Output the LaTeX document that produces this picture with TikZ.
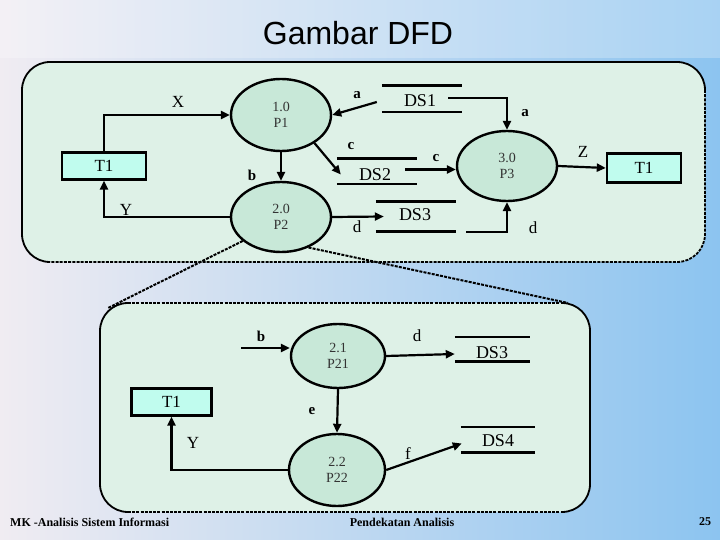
\documentclass[tikz,border=0pt]{standalone}
\usepackage{fontspec}
\setmainfont{Liberation Serif}
\newfontfamily\titlefont{Liberation Sans}
\usetikzlibrary{arrows.meta,calc,shapes.geometric}
\definecolor{bgL}{RGB}{240,236,242}
\definecolor{bgR}{RGB}{140,196,240}
\definecolor{panel}{RGB}{222,241,231}
\definecolor{procfill}{RGB}{200,232,216}
\definecolor{termfill}{RGB}{192,252,238}
\tikzset{
  proc/.style={ellipse,draw=black,line width=2.4pt,fill=procfill,inner sep=0pt,
    font=\fontsize{14}{16}\selectfont,align=center,text=black!80},
  term/.style={rectangle,draw=black,line width=2.4pt,fill=termfill,inner sep=0pt,
    font=\fontsize{17}{19}\selectfont},
  store/.style={rectangle,inner sep=0pt,font=\fontsize{18}{20}\selectfont},
  storeline/.style={line width=2.6pt},
  flow/.style={line width=2.2pt,-{Triangle[length=9pt,width=8pt]}},
  lab/.style={font=\fontsize{17}{19}\selectfont,inner sep=0pt},
  blab/.style={font=\bfseries\fontsize{15}{17}\selectfont,inner sep=0pt},
  panelsolid/.style={line width=1.8pt},
  paneldash/.style={line width=1.8pt,dash pattern=on 3pt off 1.2pt},
  foot/.style={font=\bfseries\fontsize{12}{14}\selectfont,inner sep=0pt}
}
\begin{document}
\begin{tikzpicture}[x=1pt,y=-1pt]
\useasboundingbox (0,0) rectangle (720,540);
% background
\shade[left color=bgL,right color=bgR] (0,0) rectangle (720,540);
\fill[white,opacity=0.25] (0,0) rectangle (720,58);
% title
\node[font=\titlefont\fontsize{32}{36}\selectfont] (title) at (358,33) {Gambar DFD};

% ===== upper panel =====
\fill[panel,rounded corners=28pt] (22,62) rectangle (705,262);
\draw[panelsolid,rounded corners=28pt] (50,262) -| (22,62) -| (705,90);
\draw[paneldash,rounded corners=28pt] (705,90) |- (50,262);

% ===== lower panel =====
\fill[panel,rounded corners=28pt] (100,303) rectangle (590,512);
\draw[panelsolid,rounded corners=28pt] (128,303) -| (100,512) -- (128,512);
\draw[panelsolid,rounded corners=28pt] (562,303) -| (590,512) -- (562,512);
\draw[paneldash] (128,303) -- (562,303);
\draw[paneldash] (128,512) -- (562,512);
\coordinate (lpTL) at (108,308);
\coordinate (lpTR) at (568,303);

% ===== upper nodes =====
\node[term,minimum width=84pt,minimum height=27pt] (t1a) at (104,166) {T1};
\node[proc,minimum width=100pt,minimum height=72pt] (p1) at (281,115) {1.0\\P1};
\node[proc,minimum width=100pt,minimum height=70pt] (p2) at (281,217) {2.0\\P2};
\node[proc,minimum width=100pt,minimum height=70pt] (p3) at (507,166) {3.0\\P3};
\node[term,minimum width=74pt,minimum height=29pt] (t1b) at (644,168) {T1};

\node[store,minimum width=80pt,minimum height=26pt] (ds1) at (422,99) {};
\node[store] (ds1t) at (420,101) {DS1};
\draw[storeline] (ds1.north west) -- (ds1.north east);
\draw[storeline] (ds1.south west) -- (ds1.south east);

\node[store,minimum width=80pt,minimum height=25pt] (ds2) at (377,171.5) {};
\node[store] (ds2t) at (375,175) {DS2};
\draw[storeline] (ds2.north west) -- (ds2.north east);
\draw[storeline] (ds2.south west) -- (ds2.south east);

\node[store,minimum width=80pt,minimum height=29pt] (ds3) at (416,216.5) {};
\node[store] (ds3t) at (415,215) {DS3};
\draw[storeline] (ds3.north west) -- (ds3.north east);
\draw[storeline] (ds3.south west) -- (ds3.south east);

% upper connectors
\draw[flow] (t1a.north) |- (p1.west);
\draw[flow] (p2.west) -| (t1a.south);
\draw[flow] (p1.south) -- (p2.north);
\draw[flow] (ds1.west) ++(-5,3) coordinate (ds1in) -- (p1.east);
\draw[flow] (p1.-40) -- ($(ds2.west)+(4,3)$);
\coordinate (ds1out) at ($(ds1.east)+(-14,-1)$);
\draw[flow] (ds1out) -| (p3.north);
\coordinate (ds2out) at ($(ds2.east)+(-12,-2)$);
\draw[flow] (ds2out) -- (ds2out -| p3.west);
\draw[flow] (p2.east) -- ($(ds3.west)+(8,0)$);
\coordinate (ds3out) at ($(ds3.south east)+(10,0.5)$);
\draw[flow] (ds3out) -| (p3.south);
\draw[flow] (p3.east) -- (t1b.west);

% upper labels
\node[lab] (lx) at (178,102) {X};
\node[lab] (ly) at (126,210) {Y};
\node[blab] (lb) at (252,175) {b};
\node[blab] (la1) at (357,95) {a};
\node[blab] (la2) at (525,113) {a};
\node[blab] (lc1) at (351,146) {c};
\node[blab] (lc2) at (436,158) {c};
\node[lab] (ld1) at (357,227) {d};
\node[lab] (ld2) at (533,228) {d};
\node[lab] (lz) at (583,152) {Z};

% zoom lines
\draw[paneldash,line width=2pt] (p2.212) -- (lpTL);
\draw[paneldash,line width=2pt] (p2.-48) -- (lpTR);

% ===== lower nodes =====
\node[proc,minimum width=94pt,minimum height=64pt] (p21) at (338,356) {2.1\\P21};
\node[proc,minimum width=96pt,minimum height=72pt] (p22) at (337,470) {2.2\\P22};
\node[term,minimum width=80pt,minimum height=27pt] (t1c) at (171.5,402) {T1};

\node[store,minimum width=75pt,minimum height=24pt] (ds3b) at (492.5,349) {};
\node[store] (ds3bt) at (492,353) {DS3};
\draw[storeline] (ds3b.north west) -- (ds3b.north east);
\draw[storeline] (ds3b.south west) -- (ds3b.south east);

\node[store,minimum width=74pt,minimum height=25pt] (ds4) at (498,439.5) {};
\node[store] (ds4t) at (498,441) {DS4};
\draw[storeline] (ds4.north west) -- (ds4.north east);
\draw[storeline] (ds4.south west) -- (ds4.south east);

% lower connectors
\coordinate (bin) at (241,348);
\draw[flow] (bin) -- (bin -| p21.west);
\draw[flow] (p21.south) -- (p22.north);
\draw[flow] (p22.west) -| (t1c.south);
\draw[flow] (p21.east) -- ($(ds3b.west)+(0,5)$);
\draw[flow] (p22.east) -- ($(ds4.west)+(1,4)$);

% lower labels
\node[blab] (lb2) at (261,336) {b};
\node[lab] (ld3) at (417,336) {d};
\node[blab] (le) at (312,411) {e};
\node[lab] (ly2) at (193,443) {Y};
\node[lab] (lf) at (408,454) {f};

% footer
\node[foot,anchor=west] (f1) at (10,522) {MK -Analisis Sistem Informasi};
\node[foot] (f2) at (402,522) {Pendekatan Analisis};
\node[foot] (f3) at (705,522) {25};
\end{tikzpicture}
\end{document}
